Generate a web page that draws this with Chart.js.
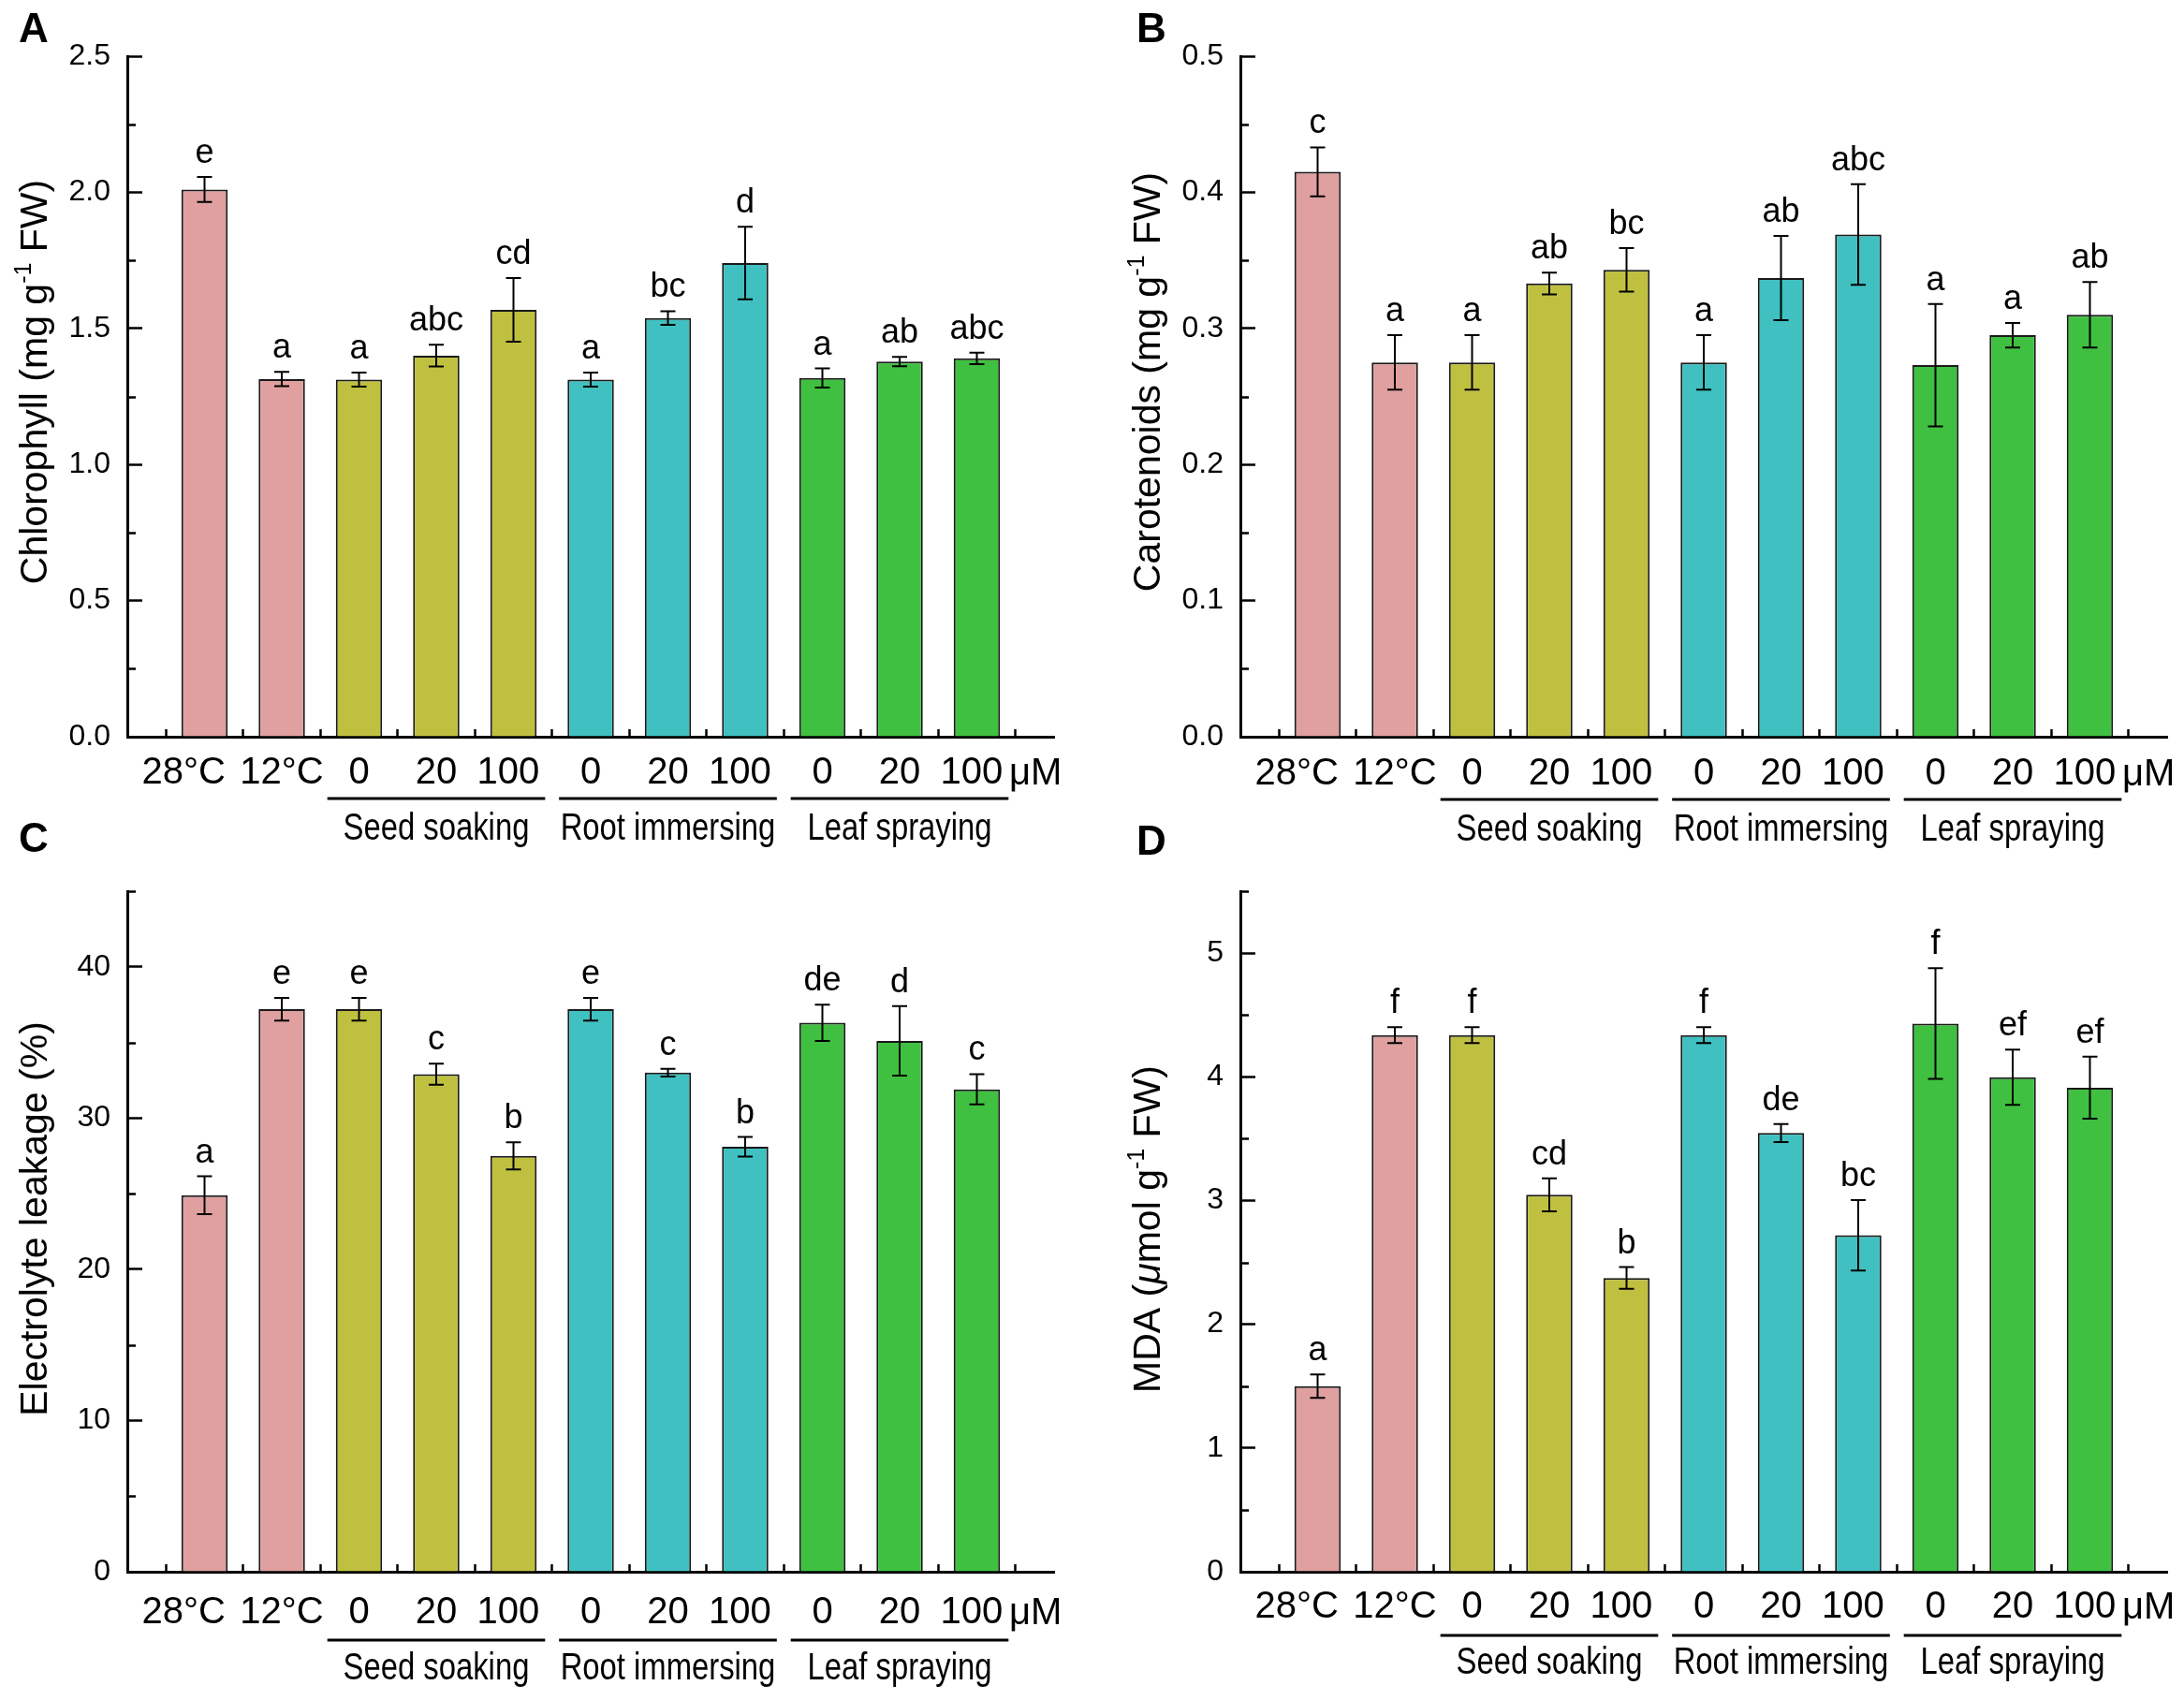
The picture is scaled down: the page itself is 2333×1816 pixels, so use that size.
<!DOCTYPE html>
<html>
<head>
<meta charset="utf-8">
<script src="https://cdn.jsdelivr.net/npm/chart.js@4.4.1/dist/chart.umd.min.js"></script>
<style>
  html, body { margin: 0; padding: 0; background: #fff; }
  #wrap { position: relative; width: 2333px; height: 1816px; }
  #wrap canvas { position: absolute; left: 0; top: 0; }
</style>
</head>
<body>
<div id="wrap">
  <canvas id="cA" width="2333" height="1816"></canvas>
  <canvas id="cB" width="2333" height="1816"></canvas>
  <canvas id="cC" width="2333" height="1816"></canvas>
  <canvas id="cD" width="2333" height="1816"></canvas>
</div>
<script>
// categories
var labels = ['28°C', '12°C', '0', '20', '100', '0', '20', '100', '0', '20', '100'];
var groups = ['Seed soaking', 'Root immersing', 'Leaf spraying'];
var groupFirst = [3, 6, 9];
var groupLast = [5, 8, 11];

var pink = '#e0a0a0', olive = '#c0c040', teal = '#40c0c0', green = '#40c040';
var barColors = [pink, pink, olive, olive, olive, teal, teal, teal, green, green, green];

// A - chlorophyll
var chlorophyll    = [2.01, 1.314, 1.312, 1.40, 1.568, 1.312, 1.538, 1.74, 1.318, 1.378, 1.39];
var chlorophyllErr = [0.046, 0.026, 0.026, 0.04, 0.117, 0.026, 0.025, 0.133, 0.035, 0.017, 0.021];
var chlorophyllSig = ['e', 'a', 'a', 'abc', 'cd', 'a', 'bc', 'd', 'a', 'ab', 'abc'];
var chlorophyllTicks = ['0.0', '0.5', '1.0', '1.5', '2.0', '2.5'];
var chlorophyllMinor = [0.25, 0.75, 1.25, 1.75, 2.25];

// B - carotenoids
var carotenoids    = [0.415, 0.275, 0.275, 0.333, 0.343, 0.275, 0.337, 0.369, 0.273, 0.295, 0.31];
var carotenoidsErr = [0.018, 0.02, 0.02, 0.008, 0.016, 0.02, 0.031, 0.037, 0.045, 0.009, 0.024];
var carotenoidsSig = ['c', 'a', 'a', 'ab', 'bc', 'a', 'ab', 'abc', 'a', 'a', 'ab'];
var carotenoidsTicks = ['0.0', '0.1', '0.2', '0.3', '0.4', '0.5'];
var carotenoidsMinor = [0.05, 0.15, 0.25, 0.35, 0.45];

// C - electrolyte leakage
var leakage    = [24.9, 37.2, 37.2, 32.9, 27.5, 37.2, 33.0, 28.1, 36.3, 35.1, 31.9];
var leakageErr = [1.25, 0.75, 0.75, 0.7, 0.9, 0.75, 0.25, 0.65, 1.2, 2.3, 1.0];
var leakageSig = ['a', 'e', 'e', 'c', 'b', 'e', 'c', 'b', 'de', 'd', 'c'];
var leakageTicks = ['0', '10', '20', '30', '40'];
var leakageMinor = [5, 15, 25, 35, 45];

// D - MDA
var mda    = [1.50, 4.337, 4.337, 3.046, 2.374, 4.337, 3.546, 2.719, 4.43, 3.996, 3.912];
var mdaErr = [0.095, 0.064, 0.064, 0.133, 0.088, 0.064, 0.073, 0.285, 0.447, 0.223, 0.25];
var mdaSig = ['a', 'f', 'f', 'cd', 'b', 'f', 'de', 'bc', 'f', 'ef', 'ef'];
var mdaTicks = ['0', '1', '2', '3', '4', '5'];
var mdaMinor = [0.5, 1.5, 2.5, 3.5, 4.5, 5.5];

Chart.defaults.font.family = "'Liberation Sans', Arial, sans-serif";
Chart.defaults.color = '#000';

var FONT = "'Liberation Sans', Arial, sans-serif";
var W = 2333, H = 1816;

function makePanel(p) {
  var points = p.values.map(function(v, i) { return { x: i + 1, y: v }; });

  var extras = {
    id: 'extras',
    afterDatasetsDraw: function(chart) {
      var ctx = chart.ctx, ys = chart.scales.y;
      var meta = chart.getDatasetMeta(0);
      ctx.save();
      ctx.strokeStyle = '#000';
      ctx.lineWidth = 2;
      ctx.fillStyle = '#000';
      ctx.font = '36px ' + FONT;
      ctx.textAlign = 'center';
      ctx.textBaseline = 'alphabetic';
      meta.data.forEach(function(bar, i) {
        var v = p.values[i], e = p.errors[i];
        var yt = ys.getPixelForValue(v + e), yb = ys.getPixelForValue(v - e);
        ctx.beginPath();
        ctx.moveTo(bar.x, yt); ctx.lineTo(bar.x, yb);
        ctx.moveTo(bar.x - 8, yt); ctx.lineTo(bar.x + 8, yt);
        ctx.moveTo(bar.x - 8, yb); ctx.lineTo(bar.x + 8, yb);
        ctx.stroke();
        ctx.fillText(p.sig[i], bar.x, yt - 15);
      });
      ctx.restore();
    },
    afterDraw: function(chart) {
      var ctx = chart.ctx, xs = chart.scales.x, ys = chart.scales.y;
      var area = chart.chartArea;
      ctx.save();
      ctx.strokeStyle = '#000';
      ctx.fillStyle = '#000';

      // minor ticks, inside
      ctx.lineWidth = 2.5;
      p.minor.forEach(function(v) {
        var y = Math.round(ys.getPixelForValue(v)) + 0.5;
        ctx.beginPath();
        ctx.moveTo(area.left, y);
        ctx.lineTo(area.left + 9, y);
        ctx.stroke();
      });

      // group lines and names
      ctx.lineWidth = 3;
      groups.forEach(function(g, k) {
        var x1 = xs.getPixelForValue(groupFirst[k] - 0.41);
        var x2 = xs.getPixelForValue(groupLast[k] + 0.41);
        var y = area.bottom + p.lineOff;
        ctx.beginPath();
        ctx.moveTo(x1, y); ctx.lineTo(x2, y);
        ctx.stroke();
        var xm = xs.getPixelForValue((groupFirst[k] + groupLast[k]) / 2);
        ctx.save();
        ctx.translate(xm, area.bottom + p.groupOff);
        ctx.scale(0.82, 1);
        ctx.font = '40px ' + FONT;
        ctx.textAlign = 'center';
        ctx.textBaseline = 'alphabetic';
        ctx.fillText(g, 0, 0);
        ctx.restore();
      });

      // unit
      ctx.font = '40px ' + FONT;
      ctx.textAlign = 'center';
      ctx.textBaseline = 'alphabetic';
      ctx.fillText('μM', xs.getPixelForValue(11.76), area.bottom + p.labelOff);

      // y title with superscript
      var size = 41;
      ctx.save();
      ctx.translate(area.left - 86, p.titleY);
      ctx.rotate(-Math.PI / 2);
      ctx.textAlign = 'left';
      var total = 0;
      p.title.forEach(function(r) {
        ctx.font = fontFor(r[1], size);
        total += ctx.measureText(r[0]).width;
      });
      var x = -total / 2;
      p.title.forEach(function(r) {
        ctx.font = fontFor(r[1], size);
        var dy = r[1] === 'sup' ? -size * 0.42 : 0;
        ctx.fillText(r[0], x, dy);
        x += ctx.measureText(r[0]).width;
      });
      ctx.restore();

      // panel letter
      ctx.font = 'bold 44px ' + FONT;
      ctx.textAlign = 'left';
      ctx.fillText(p.letter, p.letterX, p.letterY);
      ctx.restore();
    }
  };

  function fontFor(kind, size) {
    if (kind === 'sup') return Math.round(size * 0.6) + 'px ' + FONT;
    if (kind === 'it') return 'italic ' + size + 'px ' + FONT;
    return size + 'px ' + FONT;
  }

  var yVals = p.ticks.map(function(t) { return parseFloat(t); });

  return new Chart(document.getElementById(p.id), {
    type: 'bar',
    data: {
      datasets: [{
        data: points,
        backgroundColor: barColors,
        borderColor: '#1a1a1a',
        borderWidth: 2,
        barPercentage: 0.6,
        categoryPercentage: 1
      }]
    },
    options: {
      responsive: false,
      animation: false,
      devicePixelRatio: 1,
      layout: {
        padding: { left: p.left - 136, top: p.top, right: W - (p.left + 990), bottom: H - p.bottom - 100 }
      },
      plugins: { legend: { display: false }, tooltip: { enabled: false } },
      scales: {
        x: {
          type: 'linear',
          min: 0,
          max: 12,
          offset: false,
          afterBuildTicks: function(s) {
            s.ticks = labels.map(function(l, i) { return { value: i + 1 }; });
          },
          afterFit: function(s) { s.height = 100; },
          grid: { offset: true, drawOnChartArea: false, tickLength: -8, tickWidth: 2.5, tickColor: '#000' },
          border: { display: true, width: 3, color: '#000' },
          ticks: {
            autoSkip: false,
            maxRotation: 0,
            padding: p.labelOff - 28,
            font: { size: 40 },
            callback: function(v, i) {
              // the reference nudges crowded labels a little to the left
              if (i === 0) return labels[i] + '    ';
              if (labels[i] === '100') return labels[i] + ' ';
              return labels[i];
            }
          }
        },
        y: {
          type: 'linear',
          min: 0,
          max: p.max,
          afterBuildTicks: function(s) {
            s.ticks = yVals.map(function(v) { return { value: v }; });
          },
          afterFit: function(s) { s.width = 136; },
          grid: { drawOnChartArea: false, tickLength: -16, tickWidth: 2.5, tickColor: '#000' },
          border: { display: true, width: 3, color: '#000' },
          ticks: {
            autoSkip: false,
            padding: 34,
            font: { size: 32 },
            callback: function(v, i) { return p.ticks[i]; }
          }
        }
      }
    },
    plugins: [extras]
  });
}

makePanel({
  id: 'cA', letter: 'A', letterX: 20, letterY: 45,
  left: 136, top: 60, bottom: 787, max: 2.5, titleY: 408,
  labelOff: 51, lineOff: 66, groupOff: 110,
  values: chlorophyll, errors: chlorophyllErr, sig: chlorophyllSig,
  ticks: chlorophyllTicks, minor: chlorophyllMinor,
  title: [['Chlorophyll (mg g', ''], ['-1', 'sup'], [' FW)', '']]
});
makePanel({
  id: 'cB', letter: 'B', letterX: 1214, letterY: 45,
  left: 1325, top: 60, bottom: 787, max: 0.5, titleY: 408,
  labelOff: 52, lineOff: 67, groupOff: 111,
  values: carotenoids, errors: carotenoidsErr, sig: carotenoidsSig,
  ticks: carotenoidsTicks, minor: carotenoidsMinor,
  title: [['Carotenoids (mg g', ''], ['-1', 'sup'], [' FW)', '']]
});
makePanel({
  id: 'cC', letter: 'C', letterX: 20, letterY: 910,
  left: 136, top: 952, bottom: 1679, max: 45, titleY: 1302,
  labelOff: 56, lineOff: 73, groupOff: 115,
  values: leakage, errors: leakageErr, sig: leakageSig,
  ticks: leakageTicks, minor: leakageMinor,
  title: [['Electrolyte leakage (%)', '']]
});
makePanel({
  id: 'cD', letter: 'D', letterX: 1214, letterY: 913,
  left: 1325, top: 952, bottom: 1679, max: 5.5, titleY: 1313,
  labelOff: 50, lineOff: 68, groupOff: 109,
  values: mda, errors: mdaErr, sig: mdaSig,
  ticks: mdaTicks, minor: mdaMinor,
  title: [['MDA (', ''], ['μ', 'it'], ['mol g', ''], ['-1', 'sup'], [' FW)', '']]
});
</script>
</body>
</html>
